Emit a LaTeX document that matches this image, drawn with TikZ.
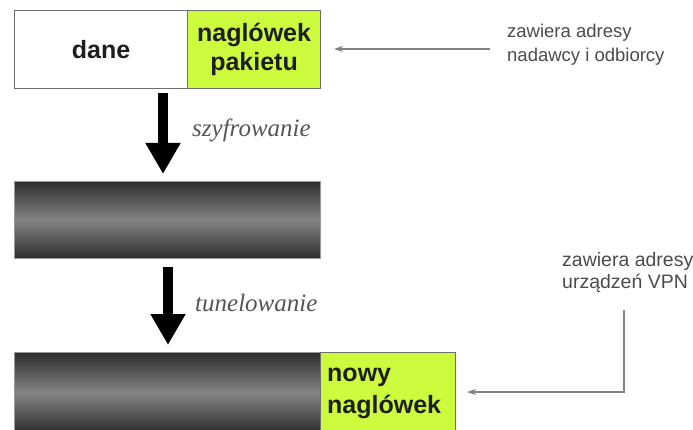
\documentclass[tikz,border=0pt]{standalone}
\usepackage{fontspec}
\setmainfont{Liberation Sans}
\newfontfamily\serifit{Liberation Serif}
\usetikzlibrary{arrows.meta,positioning}
\definecolor{lime}{RGB}{204,250,60}
\definecolor{edge}{RGB}{110,110,110}
\definecolor{bartop}{RGB}{45,45,45}
\definecolor{barmid}{RGB}{132,132,132}
\definecolor{notegray}{RGB}{130,130,130}
\definecolor{labgray}{RGB}{85,85,85}
\definecolor{txt}{RGB}{30,30,30}
\tikzset{
  box/.style={draw=edge, line width=1.1pt, inner sep=0pt, anchor=north west, text=txt,
    font=\fontsize{25}{29}\selectfont\bfseries, align=center},
  bar/.style={draw=edge!70, line width=0.8pt, inner sep=0pt, anchor=north west,
    top color=bartop, bottom color=bartop, middle color=barmid},
  bigarrow/.style={line width=10pt, -{Triangle[width=33pt,length=31pt]}},
  note/.style={text=txt!80, align=left, inner sep=0pt, anchor=west},
  notearrow/.style={draw=notegray, line width=1.3pt, -{Stealth[length=9pt,width=6pt]}},
  steplabel/.style={font=\serifit\itshape\fontsize{25}{28}\selectfont, text=labgray, inner sep=0pt, anchor=west}
}
\begin{document}
\begin{tikzpicture}[x=1pt,y=-1pt]
\useasboundingbox (0,0) rectangle (693,430);
% top packet
\node[box, fill=white, minimum width=173pt, minimum height=78pt] (dane) at (14,10) {dane};
\node[box, fill=lime, minimum width=133pt, minimum height=78pt] (hdr) at (187,10) {nagl\'owek\\pakietu};
% encrypted bar
\node[bar, minimum width=306pt, minimum height=77pt] (enc) at (14,181) {};
% tunneled packet
\node[bar, minimum width=306pt, minimum height=80pt] (tun) at (14,352) {};
\node[box, fill=lime, minimum width=135pt, minimum height=80pt] (newhdr) at (320,352) {};
\node[font=\fontsize{25}{32}\selectfont\bfseries, text=txt, align=left, inner sep=0pt, anchor=west] (newtxt) at (327,393) {nowy\\nagl\'owek};
% big arrows
\coordinate (a1s) at (163,93);
\coordinate (a1e) at (163,174);
\draw[bigarrow] (a1s) -- (a1e);
\node[steplabel] (szyf) at (192,130) {szyfrowanie};
\coordinate (a2s) at (168,267);
\coordinate (a2e) at (168,345);
\draw[bigarrow] (a2s) -- (a2e);
\node[steplabel] (tunl) at (195,303) {tunelowanie};
% notes
\node[note, font=\fontsize{18.5}{24}\selectfont] (note1) at (507,45) {zawiera adresy\\nadawcy i odbiorcy};
\coordinate (n1s) at (490,49);
\coordinate (n1e) at (334,49);
\draw[notearrow] (n1s) -- (n1e);
\node[note, font=\fontsize{19.5}{22}\selectfont] (note2) at (562,272) {zawiera adresy\\urz\k{a}dze\'n VPN};
\coordinate (n2s) at (624,310);
\coordinate (n2e) at (467,392);
\draw[notearrow] (n2s) |- (n2e);
\end{tikzpicture}
\end{document}
